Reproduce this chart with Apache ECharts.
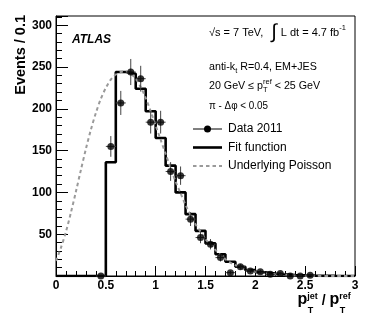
<!DOCTYPE html>
<html><head><meta charset="utf-8">
<script src="https://cdn.jsdelivr.net/npm/echarts@6/dist/echarts.min.js"></script>
<style>html,body{margin:0;padding:0;background:#fff}#c{width:374px;height:318px}</style>
</head><body><div id="c"></div>
<script>
// ---- data ----
const dataX   = [0.45,0.55,0.65,0.75,0.85,0.95,1.05,1.15,1.25,1.35,1.45,1.55,1.65,1.75,1.85,1.95,2.05,2.15,2.25,2.35,2.45,2.55];
const dataY   = [0,155,207,244,236,184,184,125,120,68,46,38,22,4,11,6,5,2,3,0,0,1];
const dataErr = [0,12.4,14.4,15.6,15.4,13.6,13.6,11.2,11,8.2,6.8,6.2,4.7,2,3.3,2.4,2.2,1.4,1.7,0,0,1];
const dataHalfWidth = 0.05;

const fitEdges  = [0,0.5,0.6,0.7,0.8,0.9,1.0,1.1,1.2,1.3,1.4,1.5,1.6,1.7,1.8,1.9,2.0,2.1,2.2,2.3,2.4,2.5,2.6,2.7,2.8,2.9,3.0];
const fitValues = [0,136,244,242,224,197,165,132,100,74,54,39,26,17,11,7,4.5,3,2,1.2,0.7,0.4,0.2,0.1,0.05,0];

const poissonX = [0,0.05,0.1,0.15,0.2,0.25,0.3,0.35,0.4,0.45,0.5,0.55,0.6,0.65,0.7,0.75,0.8,0.85,0.9,0.95,1.0,1.05,1.1,1.15,1.2,1.25,1.3,1.35,1.4,1.45,1.5,1.55,1.6,1.65,1.7,1.75,1.8,1.85,1.9,1.95,2.0,2.1,2.2,2.3,2.4,2.5,2.6,2.8,3.0];
const poissonY = [18,34,53,76,101,127,152,175,195,212,225,235,241,244,245,242,236,226,213,197,180,163,146,129,113,99,85,73,62,53,44,37,31,25,20,16,13,10,8,6.5,5,3.2,2,1.2,0.7,0.4,0.2,0.05,0];

const xTickLabels = ['0','0.5','1','1.5','2','2.5','3'];
const yTickLabels = [50,100,150,200,250,300];
const legendNames = ['Data 2011','Fit function','Underlying Poisson'];

// ---- helpers for text layout ----
const FONT = '"Liberation Sans", Arial, sans-serif';
const mctx = document.createElement('canvas').getContext('2d');
function tw(t, fs, fw, fst){ mctx.font = (fst||'normal')+' '+(fw||'normal')+' '+fs+'px '+FONT; return mctx.measureText(t).width; }
function txt(x, base, t, fs, fw, fst, sx){
  return {type:'text', x:x, y: base - 0.3465*fs, silent:true, z:100, scaleX:sx||1,
    style:{text:t, fontSize:fs, fontWeight:fw||'normal', fontStyle:fst||'normal', fontFamily:FONT, fill:'#000', align:'left', verticalAlign:'middle'}};
}
// lays out segments; if targetW given, compresses horizontally to that width
function latex(x, base, segs, def, targetW){
  function layout(sx){
    const els=[]; let cx=x;
    for (const s of segs){
      if (s.sup || s.sub){
        let wmax=0;
        for (const p of [s.sup, s.sub]) if (p){
          const fs=p.fs||def.fs*0.68, fw=p.fw||def.fw;
          els.push(txt(cx+(p.dx||0)*sx, base+p.dy, p.t, fs, fw, def.fst, sx));
          wmax=Math.max(wmax, (tw(p.t,fs,fw,def.fst)+(p.dx||0))*sx);
        }
        cx+=wmax;
      } else {
        const fs=s.fs||def.fs, fw=s.fw||def.fw, fst=s.fst||def.fst;
        els.push(txt(cx+(s.dx||0)*sx, base+(s.dy||0), s.t, fs, fw, fst, sx));
        cx+=(tw(s.t,fs,fw,fst)+(s.dx||0)+(s.gap||0))*sx;
      }
    }
    return {els, w:cx-x};
  }
  let r = layout(1);
  if (targetW) r = layout(targetW / r.w);
  return r.els;
}

const chart = echarts.init(document.getElementById('c'), null, {renderer:'canvas'});

const graphics = [];
// Y axis title
graphics.push({type:'text', x:20.5, y:15, rotation:Math.PI/2, silent:true,
  style:{text:'Events / 0.1', fontSize:14.5, fontWeight:'bold', fontFamily:FONT, fill:'#000', align:'right', verticalAlign:'middle'}});
// X axis title
graphics.push(...latex(297.5, 305.6, [
  {t:'p'},
  {sup:{t:'jet', fs:9, dy:-6}, sub:{t:'T', fs:9, dy:7.7, dx:0.5}},
  {t:' / ', fs:14},
  {t:'p'},
  {sup:{t:'ref', fs:9, dy:-6}, sub:{t:'T', fs:9, dy:7.7, dx:0.5}}
], {fs:16, fw:'bold'}));
// ATLAS
graphics.push(txt(72, 44.3, 'ATLAS', 12, 'bold', 'italic'));
// annotation lines
graphics.push(...latex(209, 36.5, [
  {t:'\u221As = 7 TeV, ', gap:5},
  {t:'\u222B', fs:20, dy:3, gap:4},
  {t:'L dt = 4.7 fb'},
  {sup:{t:'-1', fs:7.5, dy:-5.5}}
], {fs:11}));
graphics.push(...latex(209, 71, [
  {t:'anti-k'},
  {sub:{t:'t', fs:7.5, dy:2.5}},
  {t:' R=0.4, EM+JES'}
], {fs:10.7}));
graphics.push(...latex(209, 89.5, [
  {t:'20 GeV \u2264 p'},
  {sup:{t:'ref', fs:7.5, dy:-5}, sub:{t:'T', fs:7.5, dy:3}},
  {t:' < 25 GeV'}
], {fs:10.7}));
graphics.push(...latex(209, 110, [
  {t:'\u03C0 - \u0394\u03C6 < 0.05'}
], {fs:10.7}, 59));
// legend
const LX0=193, LX1=222, TX=228;
const legY=[129,147.5,166];
graphics.push({type:'line', silent:true, z:100, shape:{x1:LX0,y1:legY[0],x2:LX1,y2:legY[0]}, style:{stroke:'#000', lineWidth:1}});
graphics.push({type:'circle', silent:true, z:101, shape:{cx:(LX0+LX1)/2, cy:legY[0], r:3.5}, style:{fill:'#000'}});
graphics.push({type:'line', silent:true, z:100, shape:{x1:LX0,y1:legY[1],x2:LX1,y2:legY[1]}, style:{stroke:'#000', lineWidth:2.6}});
graphics.push({type:'line', silent:true, z:100, shape:{x1:LX0,y1:legY[2],x2:LX1,y2:legY[2]}, style:{stroke:'#9a9a9a', lineWidth:2, lineDash:[3.5,3]}});
legendNames.forEach((n,i)=>graphics.push(txt(TX, legY[i]+4.3, n, 12)));

const fitData = fitEdges.map((e,i)=>[e, fitValues[Math.min(i, fitValues.length-1)]]);

chart.setOption({
  animation:false,
  backgroundColor:'#fff',
  grid:{left:56, right:19, top:16, bottom:42, show:true, borderColor:'#000', borderWidth:1, backgroundColor:'transparent'},
  xAxis:{type:'value', min:0, max:3, interval:0.5,
    axisLine:{show:true, lineStyle:{color:'#000', width:1}},
    axisTick:{show:true, inside:true, length:10, lineStyle:{color:'#000'}},
    minorTick:{show:true, splitNumber:5, length:5, lineStyle:{color:'#000'}},
    splitLine:{show:false}, minorSplitLine:{show:false},
    axisLabel:{margin:4, color:'#000', fontFamily:FONT, fontWeight:'bold', fontSize:12,
      formatter:(v)=>{const s=String(Math.round(v*10)/10); return xTickLabels.includes(s)?s:'';}}
  },
  yAxis:{type:'value', min:0, max:311, interval:50,
    axisLine:{show:true, lineStyle:{color:'#000', width:1}},
    axisTick:{show:true, inside:true, length:12, lineStyle:{color:'#000'}},
    minorTick:{show:true, splitNumber:5, length:6, lineStyle:{color:'#000'}},
    splitLine:{show:false}, minorSplitLine:{show:false},
    axisLabel:{margin:4, color:'#000', fontFamily:FONT, fontWeight:'bold', fontSize:12,
      formatter:(v)=>yTickLabels.includes(v)?String(v):''}
  },
  series:[
    {type:'line', name:legendNames[1], data:fitData, step:'end', symbol:'none', z:3,
      lineStyle:{color:'#000', width:2.6}},
    {type:'line', name:legendNames[2], data:poissonX.map((x,i)=>[x,poissonY[i]]), smooth:0.3, symbol:'none', z:4,
      lineStyle:{color:'#9a9a9a', width:2, type:[3.5,3]}},
    {type:'custom', name:'err', z:5, data:dataX.map((x,i)=>[x,dataY[i],dataErr[i]]), encode:{x:0,y:1},
      renderItem:(params, api)=>{
        const x=api.value(0), y=api.value(1), e=api.value(2);
        const c=api.coord([x,y]);
        const t=api.coord([x,y+e]), b=api.coord([x,Math.max(0,y-e)]);
        const l=api.coord([x-dataHalfWidth,y]), r=api.coord([x+dataHalfWidth,y]);
        return {type:'group', children:[
          {type:'line', shape:{x1:c[0],y1:t[1],x2:c[0],y2:b[1]}, style:{stroke:'#444', lineWidth:1}},
          {type:'line', shape:{x1:l[0],y1:c[1],x2:r[0],y2:c[1]}, style:{stroke:'#444', lineWidth:1}}
        ]};
      }},
    {type:'scatter', name:legendNames[0], data:dataX.map((x,i)=>[x,dataY[i]]), symbol:'circle', symbolSize:7, z:6,
      itemStyle:{color:'#000'}, clip:false}
  ],
  graphic:graphics
});
</script></body></html>
